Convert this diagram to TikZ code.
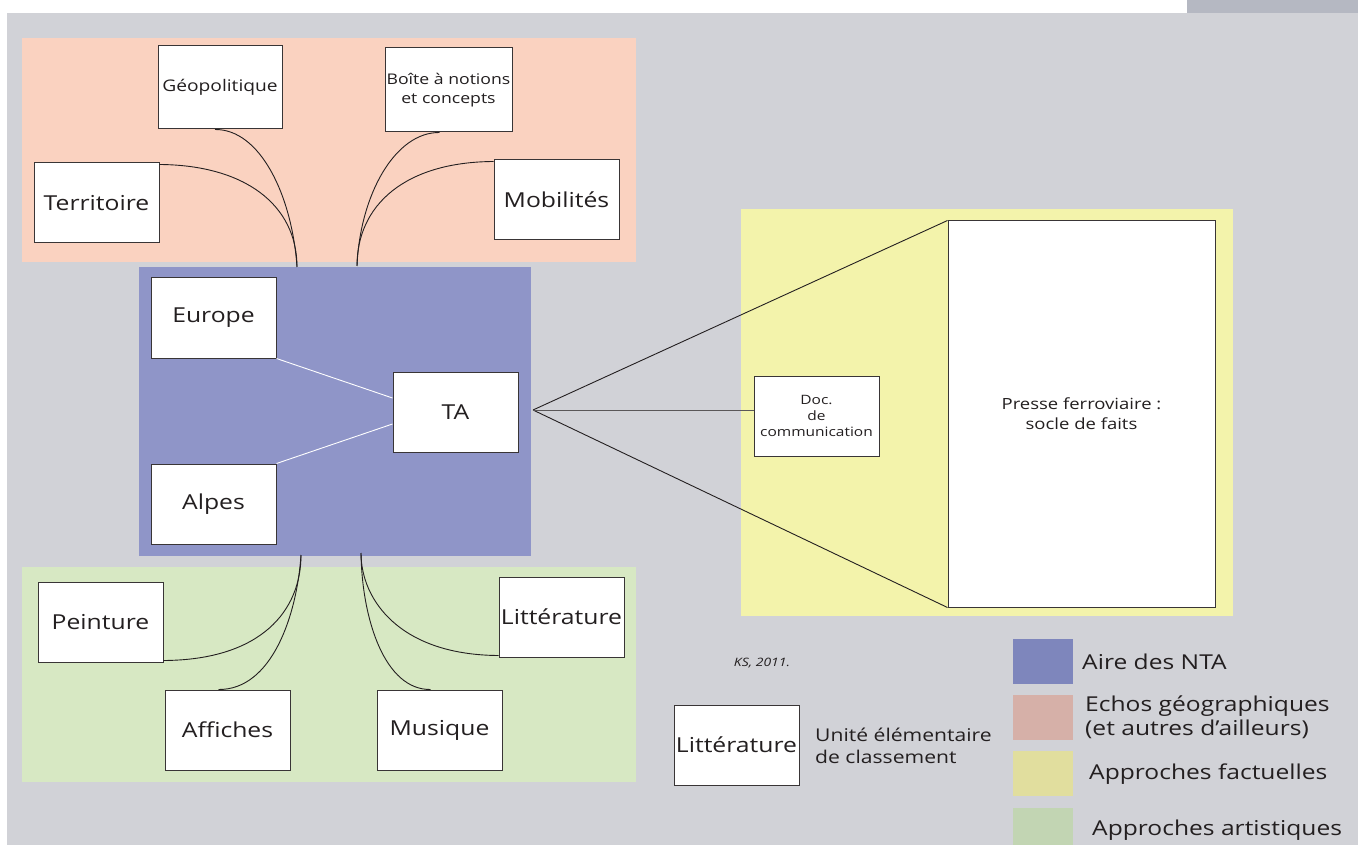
\documentclass[tikz,border=0pt]{standalone}
\usepackage{fontspec}
\setmainfont[FakeStretch=1.2]{Open Sans}
\usetikzlibrary{calc}
\definecolor{bggray}{HTML}{D1D2D7}
\definecolor{tabgray}{HTML}{B5B8C2}
\definecolor{peach}{HTML}{FAD2C0}
\definecolor{ntablue}{HTML}{8F95C8}
\definecolor{artgreen}{HTML}{D7E8C3}
\definecolor{factyellow}{HTML}{F3F3AB}
\definecolor{legblue}{HTML}{7E86BC}
\definecolor{legpeach}{HTML}{D6B0A8}
\definecolor{legyellow}{HTML}{E1DE9E}
\definecolor{leggreen}{HTML}{C2D5B3}
\definecolor{ink}{HTML}{231F20}
\begin{document}
\begin{tikzpicture}[x=1pt,y=-1pt,
  region/.style={anchor=north west, inner sep=0pt, outer sep=0pt},
  box/.style={draw=ink!90, fill=white, line width=1pt, minimum width=125pt, minimum height=80pt, inner sep=0pt, align=center, text=ink},
  bigtxt/.style={font=\fontsize{20.6}{24}\selectfont},
  conn/.style={draw=ink, line width=0.9pt},
  leg/.style={anchor=west, inner sep=0pt, text=ink, font=\fontsize{20.5}{24}\selectfont, align=left}]
\useasboundingbox (0,0) rectangle (1358,845);
% background
\fill[white] (0,0) rectangle (1358,845);
\fill[bggray] (7,13) rectangle (1358,845);
\fill[tabgray] (1187,0) rectangle (1358,13);
% regions
\node[region, fill=peach, minimum width=614pt, minimum height=224pt] (geo) at (22,38) {};
\node[region, fill=artgreen, minimum width=614pt, minimum height=215pt] (art) at (22,567) {};
\node[region, fill=ntablue, minimum width=392pt, minimum height=289pt] (nta) at (139,267) {};
\node[region, fill=factyellow, minimum width=492pt, minimum height=407pt] (fact) at (741,209) {};
% top boxes
\node[box, font=\fontsize{16}{19}\selectfont, minimum width=124pt, minimum height=83pt] (geopol) at (220,87.5) {Géopolitique};
\node[box, font=\fontsize{14.7}{19}\selectfont, minimum width=127pt, minimum height=84pt] (boite) at (448.5,90) {Boîte à notions\\et concepts};
\node[box, bigtxt] (terr) at (96.5,203) {Territoire};
\node[box, bigtxt] (mob) at (556.5,200) {Mobilités};
% NTA boxes
\node[box, bigtxt] (europe) at (213.5,318) {Europe};
\node[box, bigtxt] (ta) at (455.5,412) {TA};
\node[box, bigtxt] (alpes) at (213.5,504) {Alpes};
% bottom boxes
\node[box, bigtxt] (peint) at (100.5,622) {Peinture};
\node[box, bigtxt] (aff) at (227.5,730) {Affiches};
\node[box, bigtxt] (mus) at (439.5,730) {Musique};
\node[box, bigtxt] (litt) at (561.5,617) {Littérature};
% factual boxes
\node[box, font=\fontsize{15.4}{20}\selectfont, minimum width=267pt, minimum height=386pt] (presse) at (1081.5,414) {Presse ferroviaire :\\socle de faits};
\node[box, font=\fontsize{12.9}{16}\selectfont] (doc) at (816.5,416) {Doc.\\de\\communication};
% anchor coordinates for connectors
\coordinate (ctl) at (297,267);
\coordinate (ctr) at (357,266);
\coordinate (cbl) at (301,555);
\coordinate (cbr) at (361,553);
\coordinate (apex) at (533,410);
% top curves
\draw[conn] ([yshift=-2pt]terr.north east) .. controls (245,165) and (297,205) .. (ctl);
\draw[conn] ([xshift=-5pt]geopol.south) .. controls (260,129) and (292,195) .. (ctl);
\draw[conn] ([xshift=-9pt]boite.south) .. controls (395,132) and (360,195) .. (ctr);
\draw[conn] ([yshift=-2pt]mob.north west) .. controls (405,162) and (357,205) .. (ctr);
% bottom curves
\draw[conn] ([yshift=2pt]peint.south east) .. controls (262,660) and (301,610) .. (cbl);
\draw[conn] ([xshift=-9pt]aff.south |- aff.north) .. controls (272,690) and (297,615) .. (cbl);
\draw[conn] ([xshift=-9pt]mus.north) .. controls (385,690) and (362,620) .. (cbr);
\draw[conn] ([yshift=2pt]litt.south west) .. controls (400,655) and (361,600) .. (cbr);
% white links inside NTA area
\draw[white, line width=0.9pt] (europe.south east) -- ([yshift=14pt]ta.west);
\draw[white, line width=0.9pt] (alpes.north east) -- ([yshift=-12pt]ta.west);
% fan
\draw[conn] (apex) -- (presse.north west);
\draw[conn] (apex) -- (presse.south west);
\draw[draw=ink!75, line width=1pt] (apex) -- ([yshift=6pt]doc.west);
% legend
\node[font=\fontsize{11.6}{14}\selectfont\itshape, text=ink] (ks) at (762,663) {KS, 2011.};
\node[box, bigtxt] (leglitt) at (736.5,745) {Littérature};
\node[anchor=west, inner sep=0pt, text=ink, font=\fontsize{17.6}{22}\selectfont, align=left] (unite) at (815,746) {Unité élémentaire\\de classement};
\node[region, fill=legblue, minimum width=60pt, minimum height=45pt] (swb) at (1013,639) {};
\node[region, fill=legpeach, minimum width=60pt, minimum height=45pt] (swp) at (1013,695) {};
\node[region, fill=legyellow, minimum width=60pt, minimum height=45pt] (swy) at (1013,751) {};
\node[region, fill=leggreen, minimum width=60pt, minimum height=37pt] (swg) at (1013,808) {};
\node[leg] (lb) at (1082,662) {Aire des NTA};
\node[leg] (lp) at (1085,717) {Echos géographiques\\(et autres d’ailleurs)};
\node[leg] (ly) at (1089,774) {Approches factuelles};
\node[leg] (lg) at (1092,830) {Approches artistiques};
\end{tikzpicture}
\end{document}
